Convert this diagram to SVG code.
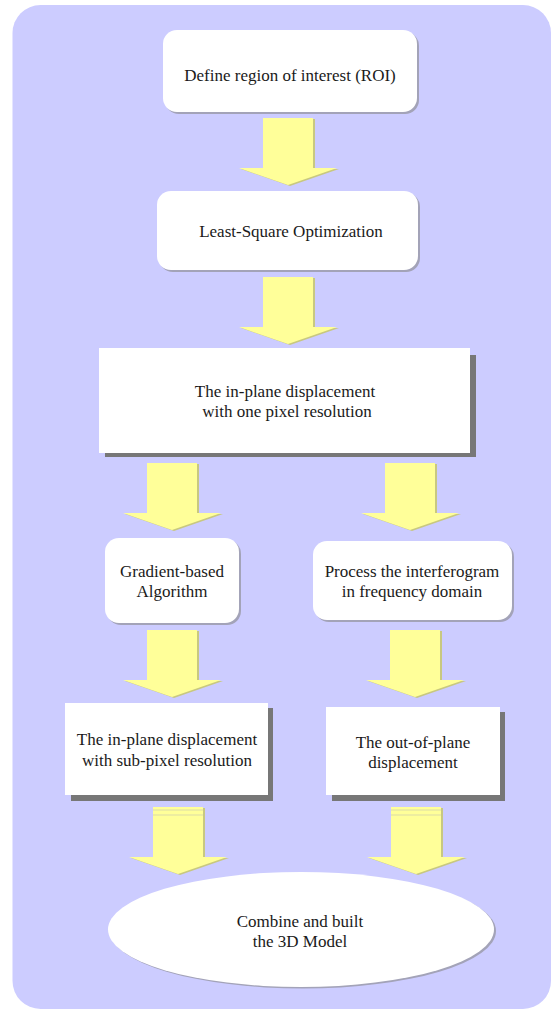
<svg xmlns="http://www.w3.org/2000/svg" width="552" height="1011" viewBox="0 0 552 1011">
<style>
.bg{fill:#CCCCFF}
.box{fill:#FFFFFF}
.sh{fill:#A3A3B8}
.dsh{fill:#777777}
.arr{fill:#FFFF99}
.ash{fill:#C8C880}
.band{stroke:#DCDCA8;stroke-width:1.2}
.t{font-family:'Liberation Serif','DejaVu Serif',serif;font-size:17px;fill:#1A1A1A;text-anchor:middle}
</style>
<defs>
<path id="arrow" d="M-25,0 H25 V50 H49 L0,67 L-49,50 H-25 Z"/>
</defs>
<rect class="bg" x="12.5" y="5" width="538.5" height="1004" rx="28" ry="28"/>

<g id="connectors">
  <g transform="translate(288,118)"><use href="#arrow" class="ash" x="2" y="1"/><use href="#arrow" class="arr"/></g>
  <g transform="translate(288,277)"><use href="#arrow" class="ash" x="2" y="1"/><use href="#arrow" class="arr"/></g>
  <g transform="translate(172,463)"><use href="#arrow" class="ash" x="2" y="1"/><use href="#arrow" class="arr"/></g>
  <g transform="translate(410,463)"><use href="#arrow" class="ash" x="2" y="1"/><use href="#arrow" class="arr"/></g>
  <g transform="translate(172,630)"><use href="#arrow" class="ash" x="2" y="1"/><use href="#arrow" class="arr"/></g>
  <g transform="translate(415,630)"><use href="#arrow" class="ash" x="2" y="1"/><use href="#arrow" class="arr"/></g>
  <g transform="translate(178,807)"><use href="#arrow" class="ash" x="2" y="1"/><use href="#arrow" class="arr"/>
    <line class="band" x1="-25" y1="3" x2="25" y2="3"/><line class="band" x1="-25" y1="8" x2="25" y2="8"/></g>
  <g transform="translate(416,807)"><use href="#arrow" class="ash" x="2" y="1"/><use href="#arrow" class="arr"/>
    <line class="band" x1="-25" y1="3" x2="25" y2="3"/><line class="band" x1="-25" y1="8" x2="25" y2="8"/></g>
</g>

<g id="n1">
  <rect class="sh" x="165" y="32" width="254" height="82" rx="14"/>
  <rect class="box" x="163" y="30" width="254" height="82" rx="14"/>
  <text class="t" x="290" y="81">Define region of interest (ROI)</text>
</g>
<g id="n2">
  <rect class="sh" x="159" y="193" width="261" height="79" rx="14"/>
  <rect class="box" x="157" y="191" width="261" height="79" rx="14"/>
  <text class="t" x="291" y="237">Least-Square Optimization</text>
</g>
<g id="n3">
  <rect class="dsh" x="105" y="355" width="371" height="102"/>
  <rect class="box" x="99" y="348" width="371" height="105"/>
  <text class="t" x="285" y="397">The in-plane displacement</text>
  <text class="t" x="287" y="417">with one pixel resolution</text>
</g>
<g id="n4">
  <rect class="sh" x="107" y="540" width="134" height="85" rx="14"/>
  <rect class="box" x="105" y="538" width="134" height="85" rx="14"/>
  <text class="t" x="172" y="577">Gradient-based</text>
  <text class="t" x="172" y="597">Algorithm</text>
</g>
<g id="n5">
  <rect class="sh" x="315" y="543" width="199" height="79" rx="14"/>
  <rect class="box" x="313" y="541" width="199" height="79" rx="14"/>
  <text class="t" x="412" y="577">Process the interferogram</text>
  <text class="t" x="412" y="597">in frequency domain</text>
</g>
<g id="n6">
  <rect class="dsh" x="71" y="708" width="202" height="93"/>
  <rect class="box" x="65" y="703" width="203" height="92"/>
  <text class="t" x="167" y="745">The in-plane displacement</text>
  <text class="t" x="167" y="766">with sub-pixel resolution</text>
</g>
<g id="n7">
  <rect class="dsh" x="332" y="712" width="173" height="89"/>
  <rect class="box" x="326" y="707" width="174" height="88"/>
  <text class="t" x="413" y="748">The out-of-plane</text>
  <text class="t" x="413" y="768">displacement</text>
</g>
<g id="n8">
  <ellipse class="sh" cx="303" cy="931" rx="193" ry="57.5"/>
  <ellipse class="box" cx="301" cy="929.5" rx="193" ry="57.5"/>
  <text class="t" x="300" y="927">Combine and built</text>
  <text class="t" x="300" y="947">the 3D Model</text>
</g>
</svg>
